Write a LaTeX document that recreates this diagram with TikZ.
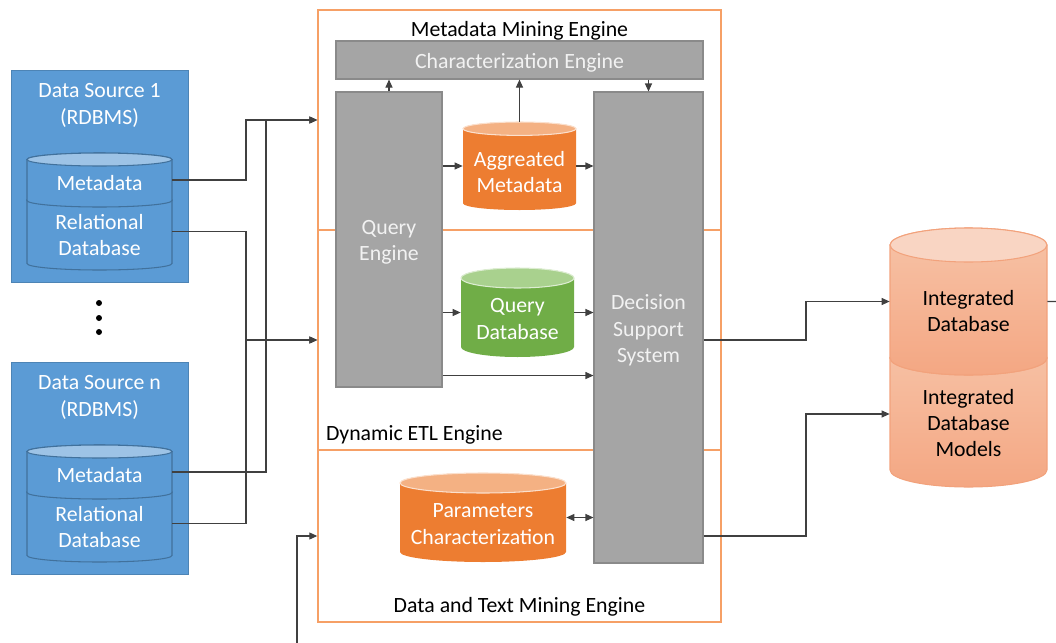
\documentclass[tikz,border=0pt]{standalone}
\usepackage{fontspec}
\setmainfont{Carlito}
\usetikzlibrary{arrows.meta}
\usetikzlibrary{fit}
\usetikzlibrary{positioning}

\definecolor{srcblue}{HTML}{5B9BD5}
\definecolor{srcline}{HTML}{41719C}
\definecolor{srctop}{HTML}{9DC3E6}
\definecolor{engorange}{HTML}{ED7D31}
\definecolor{engtop}{HTML}{F4B183}
\definecolor{qgreen}{HTML}{70AD47}
\definecolor{qtop}{HTML}{A9D18E}
\definecolor{boxgray}{HTML}{A5A5A5}
\definecolor{boxline}{HTML}{8A8A8A}
\definecolor{frameorange}{HTML}{F6A066}
\definecolor{intlight}{HTML}{F7C3A7}
\definecolor{intdark}{HTML}{F4A783}
\definecolor{inttop}{HTML}{F9D5C3}
\definecolor{intline}{HTML}{F2A27C}
\definecolor{linkgray}{HTML}{404040}
\definecolor{paletext}{HTML}{F2F2F2}

% cylinder: style prefix, name, x left, y top, x right, y bottom, y radius
\newcommand{\dbcyl}[7]{%
  \path[#1 body] (#3,#4+#7) -- (#3,#6-#7)
    arc[start angle=180, end angle=360, x radius={(#5-#3)/2*0.02cm}, y radius={#7*0.02cm}]
    -- (#5,#4+#7)
    arc[start angle=0, end angle=180, x radius={(#5-#3)/2*0.02cm}, y radius={#7*0.02cm}]
    -- cycle;
  \path[#1 top] ({(#3+#5)/2},#4+#7) ellipse[x radius={(#5-#3)/2*0.02cm}, y radius={#7*0.02cm}];
  \node[fit={(#3,#4) (#5,#6)}, inner sep=0pt] (#2) {};
}

\begin{document}
\begin{tikzpicture}[
            x = 0.02cm, y = -0.02cm, % one unit per pixel
            every node/.style = {font=\fontsize{12.4}{15}\selectfont},
            link/.style = {draw=linkgray, line width=0.6pt},
            arr/.style = {link, -{Triangle[length=1.6mm,width=1.4mm]}},
            biarr/.style = {link, {Triangle[length=1.6mm,width=1.4mm]}-{Triangle[length=1.6mm,width=1.4mm]}},
            frame/.style = {draw=frameorange, line width=0.8pt, inner sep=0pt},
            source/.style = {fill=srcblue, draw=srcblue!85!black, line width=0.5pt, inner sep=0pt},
            engine/.style = {fill=boxgray, draw=boxline, line width=0.6pt, inner sep=0pt},
            gtext/.style = {text=paletext, align=center, yshift=-0.06cm},
            wtext/.style = {text=white, align=center},
            btext/.style = {text=black, align=center},
            src body/.style = {fill=srcblue, draw=srcline, line width=0.6pt},
            src top/.style = {fill=srctop, draw=srcline, line width=0.6pt},
            eng body/.style = {fill=engorange},
            eng top/.style = {fill=engtop, draw=white!60!engtop, line width=0.6pt},
            qry body/.style = {fill=qgreen},
            qry top/.style = {fill=qtop, draw=white!60!qtop, line width=0.6pt},
            int body/.style = {top color=intlight, bottom color=intdark, draw=intline, line width=0.6pt},
            int top/.style = {fill=inttop, draw=intline, line width=0.6pt}
        ]
        \useasboundingbox (0,0) rectangle (1056,643);

        % data sources
        \node[source, fit={(11,70) (188,282)}] (DS1) {};
        \dbcyl{src}{R1}{27}{193.5}{172}{270}{6.5}
        \dbcyl{src}{M1}{27}{153}{172}{207}{6.5}
        \node[wtext, below=0.16cm of DS1.north] (DS1t) {Data Source 1\\(RDBMS)};
        \node[wtext] (M1t) at (99.5,183) {Metadata};
        \node[wtext] (R1t) at (99.5,235) {Relational\\Database};

        \foreach \y in {303,318,332}
            \fill[black] (99,\y) circle[radius=0.06cm];

        \node[source, fit={(11,362) (188,574)}] (DSn) {};
        \dbcyl{src}{Rn}{27}{485.5}{172}{562}{6.5}
        \dbcyl{src}{Mn}{27}{445}{172}{499}{6.5}
        \node[wtext, below=0.16cm of DSn.north] (DSnt) {Data Source n\\(RDBMS)};
        \node[wtext] (Mnt) at (99.5,475) {Metadata};
        \node[wtext] (Rnt) at (99.5,527) {Relational\\Database};

        % engine frames
        \node[frame, fit={(318,10) (721,230)}] (MME) {};
        \node[frame, fit={(318,230) (721,450)}] (ETL) {};
        \node[frame, fit={(318,450) (721,622)}] (DTM) {};
        \node[below=0.12cm of MME.north] (MMEt) {Metadata Mining Engine};
        \node[above right=0.01cm and 0.05cm of ETL.south west] (ETLt) {Dynamic ETL Engine};
        \node[above=0.01cm of DTM.south] (DTMt) {Data and Text Mining Engine};

        % engines and stores
        \node[engine, fit={(336,41) (703,79)}] (CE) {};
        \node[gtext] (CEt) at (CE.center) {Characterization Engine};
        \node[engine, fit={(336,92) (442,387)}] (QE) {};
        \node[gtext] (QEt) at (QE.center) {Query\\Engine};
        \node[engine, fit={(594,92) (703,563)}] (DSS) {};
        \node[gtext] (DSSt) at (DSS.center) {Decision\\Support\\System};

        \dbcyl{eng}{AGG}{463}{122}{576}{210}{6.7}
        \node[wtext] (AGGt) at (519.5,172) {Aggreated\\Metadata};
        \dbcyl{qry}{QDB}{461}{268}{574}{357}{10}
        \node[wtext] (QDBt) at (517.5,319) {Query\\Database};
        \dbcyl{eng}{PAR}{400}{473}{566}{562}{10}
        \node[wtext] (PARt) at (483,524) {Parameters\\Characterization};

        % integrated store
        \dbcyl{int}{IDM}{890}{341}{1047}{487}{17}
        \dbcyl{int}{IDB}{890}{228}{1047}{375}{17}
        \node[btext] (IDBt) at (968.5,311) {Integrated\\Database};
        \node[btext] (IDMt) at (968.5,423) {Integrated\\Database\\Models};

        % bus lines
        \coordinate (busA) at (246,0);
        \coordinate (busB) at (266,0);
        \coordinate (busC) at (806,0);
        \coordinate (inB) at (297,643);
        \coordinate (outR) at (1056,301.5);
        \coordinate (q3) at ([yshift=0.24cm]QE.south east);

        \draw[arr] (M1.east) -- (M1.east -| busA) |- (MME.west);
        \draw[arr] (Mn.east) -- (Mn.east -| busB) |- (MME.west);
        \draw[arr] (R1.east) -- (R1.east -| busA) |- (ETL.west);
        \draw[arr] (Rn.east) -- (Rn.east -| busA) |- (ETL.west);
        \draw[arr] (inB) |- (DTM.west);

        \draw[arr] (QE.north) -- (QE.north |- CE.south);
        \draw[arr] (AGG.north) -- (AGG.north |- CE.south);
        \draw[arr] (DSS.north |- CE.south) -- (DSS.north);
        \draw[arr] (QE.east |- AGG.west) -- (AGG.west);
        \draw[arr] (AGG.east) -- (AGG.east -| DSS.west);
        \draw[arr] (QE.east |- QDB.west) -- (QDB.west);
        \draw[arr] (QDB.east) -- (QDB.east -| DSS.west);
        \draw[arr] (q3) -- (q3 -| DSS.west);
        \draw[biarr] (PAR.east) -- (PAR.east -| DSS.west);

        \draw[arr] (DSS.east |- ETL.west) -- (ETL.west -| busC) |- (IDB.west);
        \draw[arr] (DSS.east |- DTM.west) -- (DTM.west -| busC) |- (IDM.west);
        \draw[link] (IDB.east) -- (outR);

\end{tikzpicture}
\end{document}
